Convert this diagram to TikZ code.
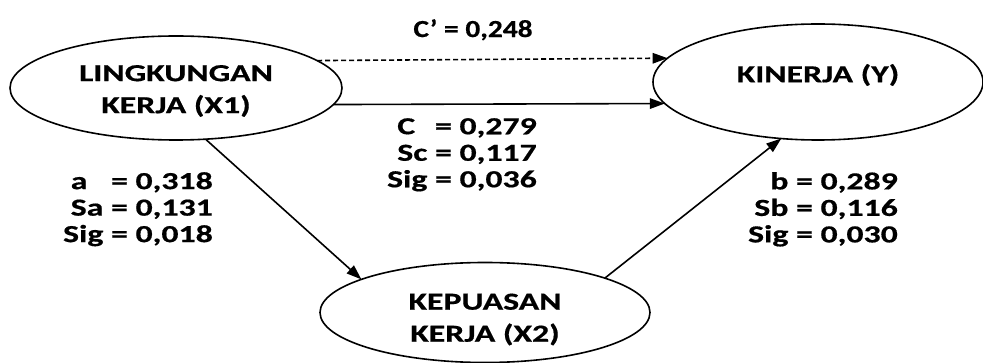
\documentclass[tikz,border=0pt]{standalone}
\usepackage{fontspec}
\setmainfont{Carlito}[FakeStretch=1.38, BoldFeatures={FakeBold=0.6}]
\usetikzlibrary{shapes.geometric,arrows.meta}
\tikzset{
  var/.style={draw=black, line width=1.6pt, ellipse, inner sep=0pt, outer sep=0pt},
  vtext/.style={font=\fontsize{24.5}{32}\selectfont\bfseries, align=center, inner sep=0pt},
  lbl/.style={font=\fontsize{24.5}{26.5}\selectfont\bfseries, inner sep=0pt},
  conn/.style={line width=1.6pt, -{Triangle[length=15pt,width=10.5pt]}},
}
\begin{document}
\begin{tikzpicture}[x=1pt,y=-1pt]
\useasboundingbox (0,0) rectangle (983,363);
\node[var, minimum width=332pt, minimum height=104pt,
      label={[vtext, yshift=-3pt]center:{LINGKUNGAN\\KERJA (X1)}}] (X1) at (176,88) {};
\node[var, minimum width=330pt, minimum height=116pt,
      label={[vtext, yshift=7pt]center:{KINERJA (Y)}}] (Y) at (818,82) {};
\node[var, minimum width=330pt, minimum height=100pt,
      label={[vtext, yshift=-7pt]center:{KEPUASAN\\KERJA (X2)}}] (X2) at (485,312.5) {};

\draw[conn, dash pattern=on 5pt off 3pt] (X1.11.88) -- (Y.171.37);
\draw[conn] (X1.-6.18) -- (Y.188.63);
\draw[conn] (X1.-60.8) -- (X2.165.4);
\draw[conn] (X2.16.7) -- (Y.237.7);

\node[lbl, anchor=north] (cp) at (473,19) {\scalebox{0.87}[1]{C’ = 0,248}};
\node[lbl, anchor=north east, align=right] (cl) at (537,118)
  {\rlap{C}\phantom{Sc} = 0,279\\Sc = 0,117\\Sig = 0,036};
\node[lbl, anchor=north east, align=right] (al) at (213,172)
  {\rlap{a}\phantom{Sa} = 0,318\\Sa = 0,131\\Sig = 0,018};
\node[lbl, anchor=north east, align=right] (bl) at (898,172)
  {b = 0,289\\Sb = 0,116\\Sig = 0,030};
\end{tikzpicture}
\end{document}
